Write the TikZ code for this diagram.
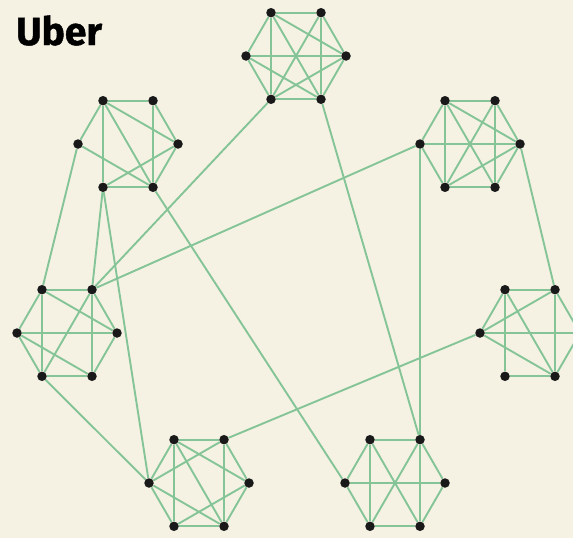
\documentclass[tikz,border=0pt]{standalone}
\usepackage{fontspec}
\newfontfamily\titlefont{Fira Sans}[BoldFeatures={FakeBold=1.2}]
\usetikzlibrary{calc}
\definecolor{paper}{RGB}{245,242,228}
\definecolor{linkgreen}{RGB}{132,196,150}
\pgfdeclarelayer{bg}
\pgfdeclarelayer{edges}
\pgfsetlayers{bg,edges,main}

\begin{document}
\begin{tikzpicture}[x=1pt,y=-1pt,
  dot/.style={circle,fill=black!90,inner sep=0pt,minimum size=9.5pt},
  link/.style={draw=linkgreen,line width=1.9pt}]
\useasboundingbox (0,0) rectangle (573,538);
\begin{pgfonlayer}{bg}
\fill[paper] (0,0) rectangle (573,538);
\end{pgfonlayer}
\clip (0,0) rectangle (573,538);
\node[font=\titlefont\bfseries\fontsize{39}{39}\selectfont,anchor=base west,inner sep=0pt] (title) at (16,45) {Uber};
% seven hexagons, corners a (top left) round to f (left)
\foreach \h/\cx/\cy in {1/296/56, 2/128/144, 3/470/144, 4/67/333, 5/530/333, 6/199/483, 7/395/483}{
  \foreach \v/\ang in {a/240, b/300, c/0, d/60, e/120, f/180}{
    \node[dot] (h\h\v) at ($(\cx,\cy)+(\ang:50)$) {};
  }
}
\begin{pgfonlayer}{edges}
% links inside each hexagon
\foreach \p/\q in {a/b,a/c,a/d,a/e,a/f,b/c,b/d,b/e,c/d,c/e,c/f,d/e,d/f,e/f}{\draw[link] (h1\p) -- (h1\q);}
\foreach \p/\q in {a/b,a/c,a/d,a/e,a/f,b/c,b/d,c/d,c/e,d/e,d/f}{\draw[link] (h2\p) -- (h2\q);}
\foreach \p/\q in {a/b,a/c,a/d,a/e,a/f,b/c,b/d,b/e,c/d,c/e,c/f,d/e,e/f}{\draw[link] (h3\p) -- (h3\q);}
\foreach \p/\q in {a/b,a/c,a/e,a/f,b/c,b/d,b/e,c/d,c/f,d/e,d/f,e/f}{\draw[link] (h4\p) -- (h4\q);}
\foreach \p/\q in {a/b,a/d,a/e,a/f,b/c,b/d,b/f,c/d,c/f,d/e,d/f}{\draw[link] (h5\p) -- (h5\q);}
\foreach \p/\q in {a/b,a/c,a/d,a/e,a/f,b/c,b/d,b/f,c/d,c/e,d/e,d/f,e/f}{\draw[link] (h6\p) -- (h6\q);}
\foreach \p/\q in {a/b,a/d,a/e,a/f,b/c,b/d,b/e,c/d,c/f,d/e,e/f}{\draw[link] (h7\p) -- (h7\q);}
% links between hexagons
\foreach \p/\q in {h1e/h4b, h1d/h7b, h2f/h4a, h2e/h4b, h2e/h6f, h2d/h7f,
                   h3f/h4b, h3f/h7b, h3c/h5b, h5f/h6b, h4e/h6f}{
  \draw[link] (\p) -- (\q);
}
\end{pgfonlayer}
\end{tikzpicture}
\end{document}
